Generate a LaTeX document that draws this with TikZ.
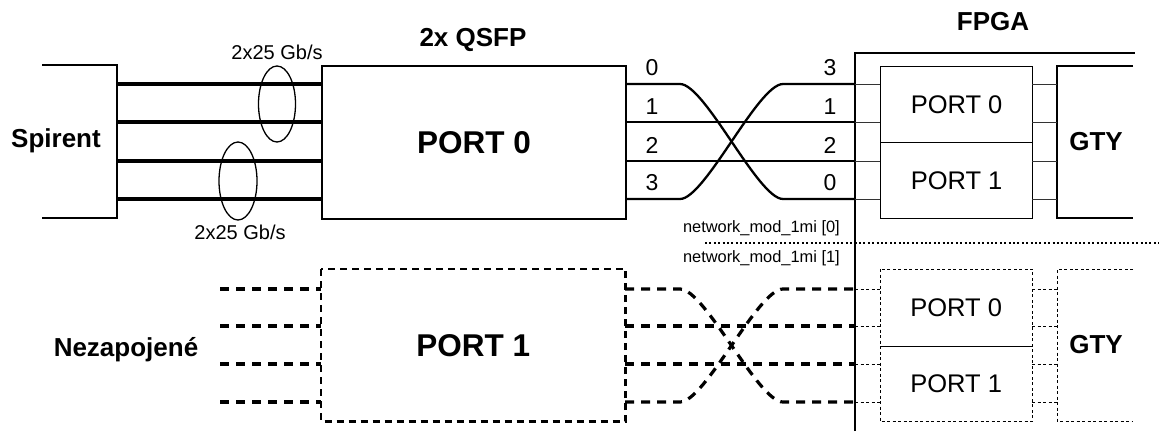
\documentclass[tikz,border=0pt]{standalone}
\usepackage{fontspec}
\setmainfont{Liberation Sans}
\usetikzlibrary{calc}
\begin{document}
\begin{tikzpicture}[x=1pt,y=-1pt,
  head/.style={font=\fontsize{26}{30}\bfseries\selectfont, inner sep=0},
  big/.style={font=\fontsize{31.5}{36}\bfseries\selectfont, inner sep=0},
  port/.style={font=\fontsize{25.5}{30}\selectfont, inner sep=0},
  num/.style={font=\fontsize{23}{26}\selectfont, inner sep=0},
  rate/.style={font=\fontsize{20}{24}\selectfont, inner sep=0},
  small/.style={font=\fontsize{16.4}{20}\selectfont, inner sep=0},
  frame/.style={draw, line width=2pt},
  thick lane/.style={line width=4pt},
  lane/.style={line width=2.3pt},
  stub/.style={line width=1pt, draw=black!80},
  dlane/.style={line width=3.2pt, dash pattern=on 9pt off 7pt},
  dframe/.style={line width=2.2pt, dash pattern=on 7pt off 5pt},
  fine dash/.style={line width=1pt, dash pattern=on 3pt off 2.5pt},
  sep dots/.style={line width=2.2pt, dash pattern=on 2pt off 2.4pt}
]
\useasboundingbox (0,0) rectangle (1159,431);

% ---------- titles ----------
\node[head] (qsfp) at (473,40) {2x QSFP};
\node[head] (fpga) at (993,22) {FPGA};
\node[head] (spirent) at (56,141) {Spirent};
\node[head] (nez) at (126,350) {Nezapojené};

% ---------- Spirent bracket ----------
\draw[line width=2pt] (42,65) -| (117,218) -- (42,218);
\foreach \i/\y in {0/84,1/122,2/161,3/199}{
  \coordinate (s\i) at (117,\y);
  \coordinate (ql\i) at (321,\y);
  \coordinate (qr\i) at (625,\y);
  \coordinate (f\i) at (855,\y);
  \coordinate (pl\i) at (880,\y);
  \coordinate (pr\i) at (1032,\y);
  \coordinate (g\i) at (1057,\y);
}
\foreach \i in {0,...,3}{\draw[thick lane] (s\i) -- (ql\i);}

% QSFP port 0
\node[frame, minimum width=304pt, minimum height=153pt, anchor=north west, inner sep=0] (q0) at (321,65) {};
\node[big] (q0t) at (q0.center) {PORT 0};

% ellipses
\draw[line width=1.3pt] (277,104) ellipse [x radius=18.5pt, y radius=38pt];
\draw[line width=1.3pt] (238,181) ellipse [x radius=19pt, y radius=39pt];
\node[rate] (r1) at (277,52) {2x25 Gb/s};
\node[rate] (r2) at (240,232) {2x25 Gb/s};

% lane numbers
\foreach \i/\y in {0/68,1/107,2/145,3/183}{\node[num] (ln\i) at (652,\y) {\i};}
\node[num] (rn0) at (830,68) {3};
\node[num] (rn1) at (830,107) {1};
\node[num] (rn2) at (830,145) {2};
\node[num] (rn3) at (830,183) {0};

% crossing lanes (top)
\draw[lane] (qr0) -- ($(qr0)+(55,0)$) .. controls ($(qr0)+(80,0)$) and ($(f3)+(-97,0)$) .. ($(f3)+(-72,0)$) -- (f3);
\draw[lane] (qr3) -- ($(qr3)+(55,0)$) .. controls ($(qr3)+(80,0)$) and ($(f0)+(-97,0)$) .. ($(f0)+(-72,0)$) -- (f0);
\draw[lane] (qr1) -- (f1);
\draw[lane] (qr2) -- (f2);

% FPGA border
\coordinate (fb) at (855,431);
\coordinate (ft) at (1135,53);
\draw[line width=2.6pt] (fb) |- (ft);

% FPGA ports (top)
\node[draw, line width=1.2pt, minimum width=152pt, minimum height=76pt, anchor=north west, inner sep=0] (p0) at (880,66) {};
\node[draw, line width=1.2pt, minimum width=152pt, minimum height=76pt, anchor=north west, inner sep=0] (p1) at (880,142) {};
\node[port] at (p0.center) {PORT 0};
\node[port] at (p1.center) {PORT 1};
\draw[line width=1.2pt] (1133,66) -- (1057,66) -- (1057,218) -- (1133,218);
\node[head] (gty0) at (1096,142) {GTY};
\foreach \i in {0,...,3}{\draw[stub] (f\i) -- (pl\i); \draw[stub] (pr\i) -- (g\i);}

% divider
\node[small, anchor=east] (nm0) at (840,228) {network\_mod\_1mi [0]};
\node[small, anchor=east] (nm1) at (840,258) {network\_mod\_1mi [1]};
\coordinate (d0) at (705,243);
\coordinate (d1) at (1159,243);
\draw[sep dots] (d0) -- (d1);

% ---------- bottom (unconnected) ----------
\foreach \i/\y in {0/289,1/326,2/364,3/402}{
  \coordinate (bs\i) at (220,\y);
  \coordinate (bql\i) at (321,\y);
  \coordinate (bqr\i) at (625,\y);
  \coordinate (bf\i) at (855,\y);
  \coordinate (bpl\i) at (880,\y);
  \coordinate (bpr\i) at (1032,\y);
  \coordinate (bg\i) at (1057,\y);
}
\foreach \i in {0,...,3}{\draw[dlane] (bs\i) -- (bql\i);}
\node[minimum width=304pt, minimum height=152pt, anchor=north west, inner sep=0] (q1) at (321,269) {};
\draw[dframe] (q1.north west) rectangle (q1.south east);
\node[big] (q1t) at (q1.center) {PORT 1};

\draw[dlane] (bqr0) -- ($(bqr0)+(55,0)$) .. controls ($(bqr0)+(80,0)$) and ($(bf3)+(-97,0)$) .. ($(bf3)+(-72,0)$) -- (bf3);
\draw[dlane] (bqr3) -- ($(bqr3)+(55,0)$) .. controls ($(bqr3)+(80,0)$) and ($(bf0)+(-97,0)$) .. ($(bf0)+(-72,0)$) -- (bf0);
\draw[dlane] (bqr1) -- (bf1);
\draw[dlane] (bqr2) -- (bf2);

\node[minimum width=152pt, minimum height=77pt, anchor=north west, inner sep=0] (bp0) at (880,269) {};
\node[minimum width=152pt, minimum height=75pt, anchor=north west, inner sep=0] (bp1) at (880,346) {};
\draw[fine dash] (bp0.north west) rectangle (bp1.south east);
\draw[line width=1.2pt] (bp0.south west) -- (bp0.south east);
\node[port] at (bp0.center) {PORT 0};
\node[port] at (bp1.center) {PORT 1};
\draw[fine dash] (1133,269) -- (1057,269) -- (1057,421) -- (1133,421);
\node[head] (gty1) at (1096,345) {GTY};
\foreach \i in {0,...,3}{\draw[fine dash] (bf\i) -- (bpl\i); \draw[fine dash] (bpr\i) -- (bg\i);}
\end{tikzpicture}
\end{document}
